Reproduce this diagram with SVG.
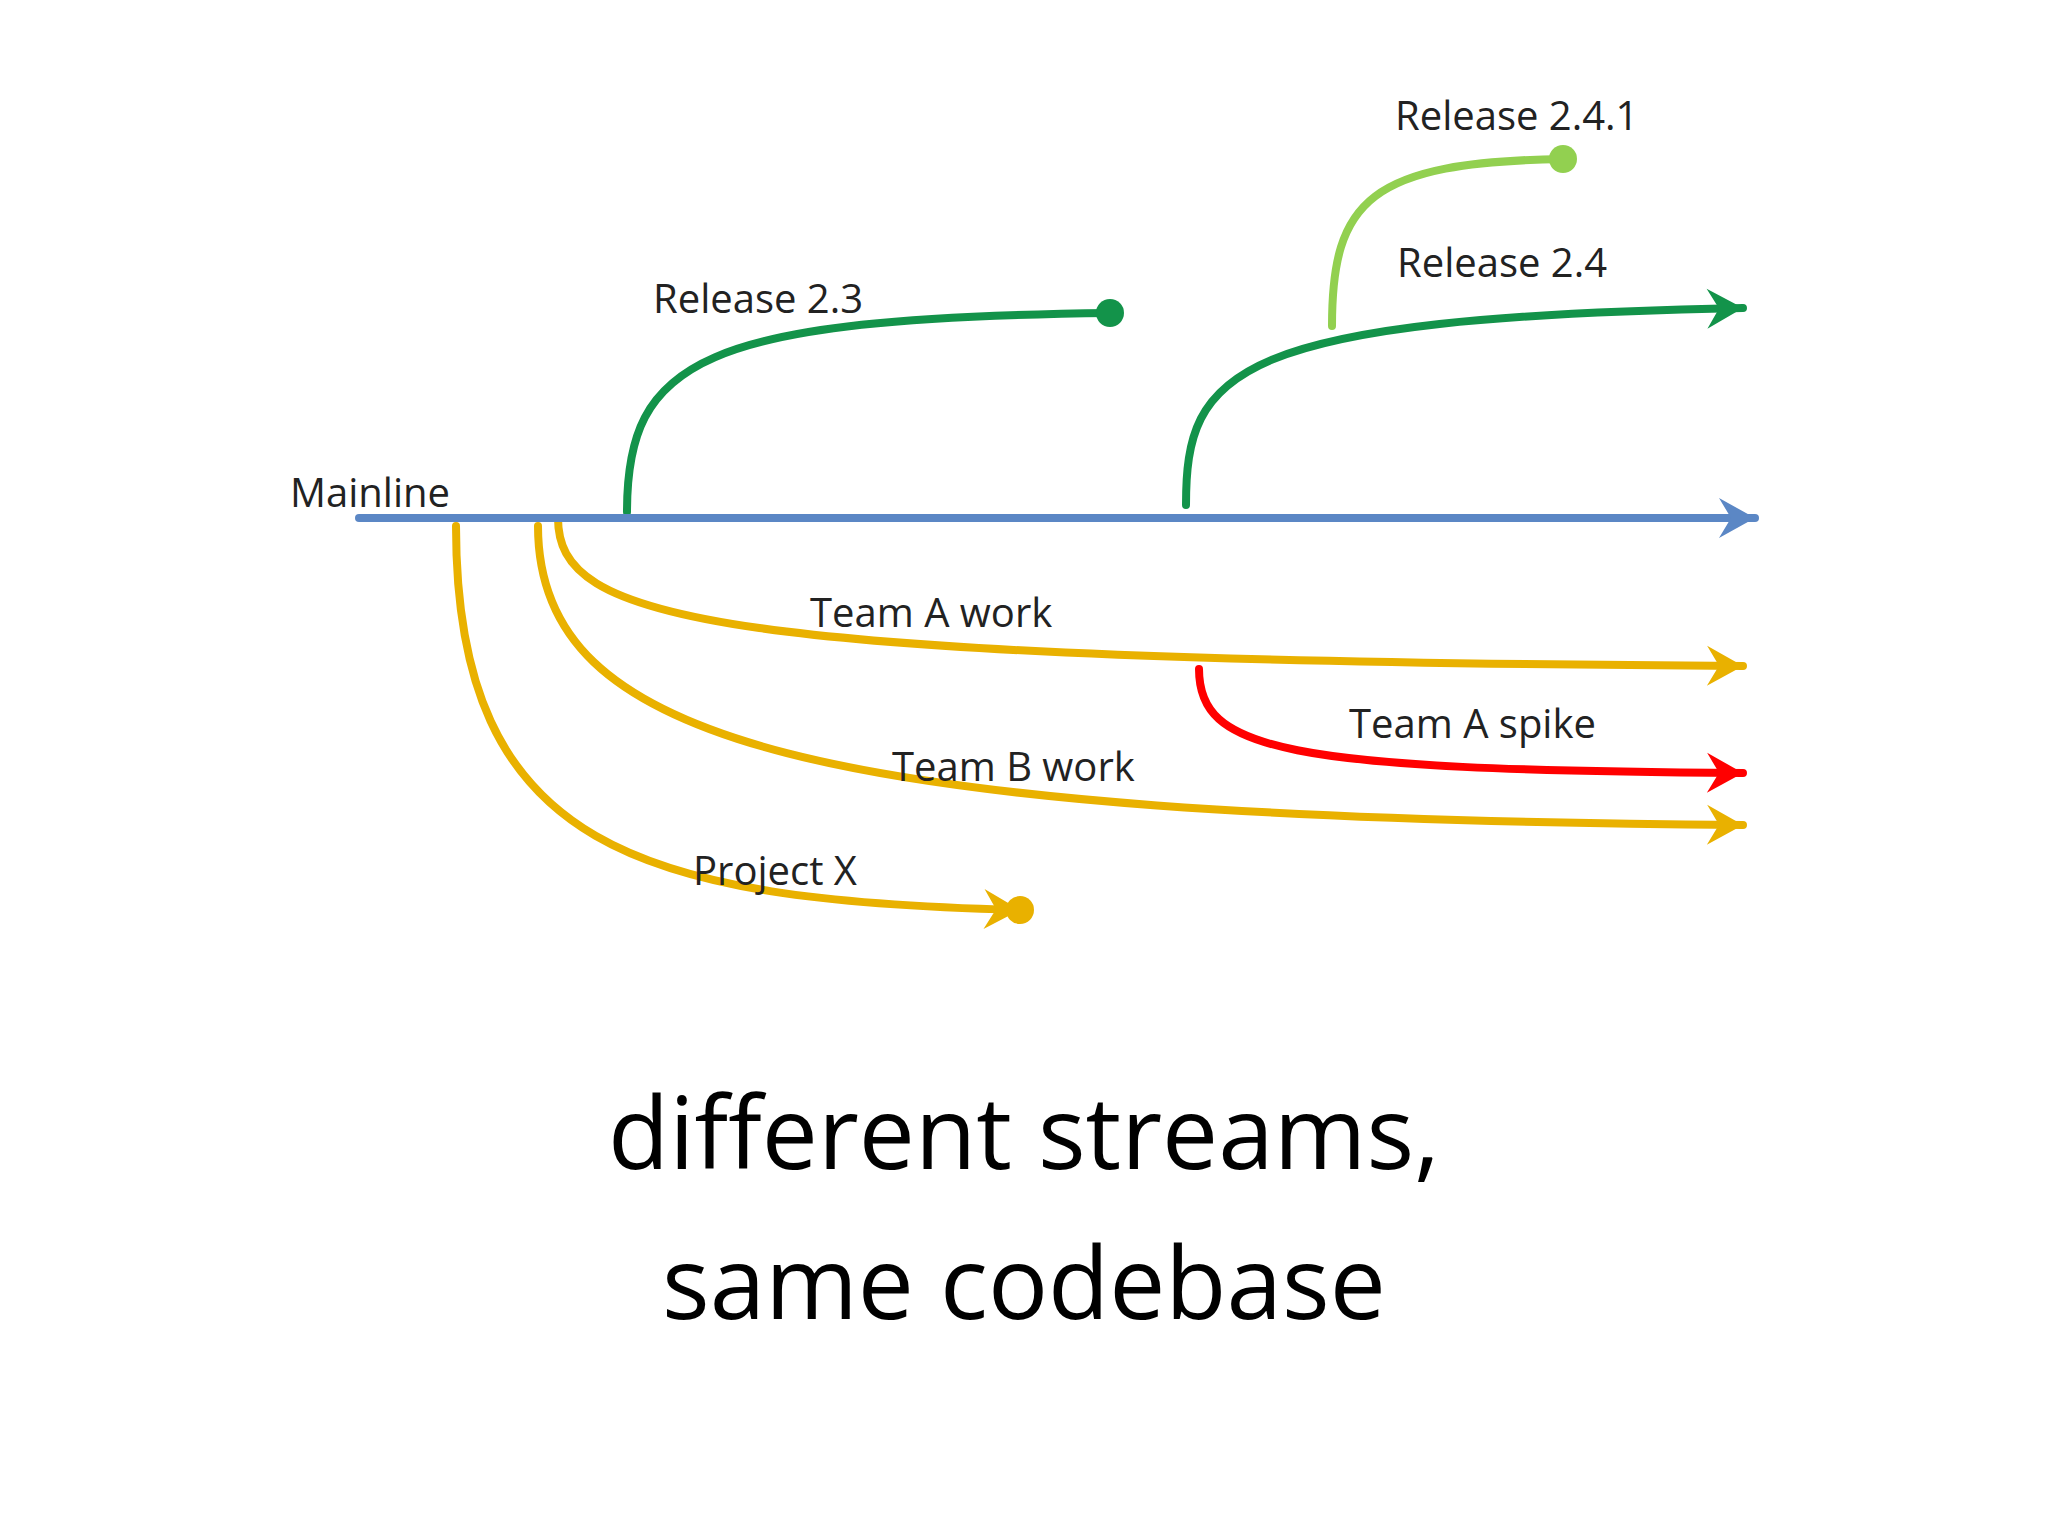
<svg xmlns="http://www.w3.org/2000/svg" width="2048" height="1536" viewBox="0 0 2048 1536">
<style>
.l{fill:none;stroke-width:8;stroke-linecap:round}
.t{font-family:"Open Sans","Liberation Sans",sans-serif;font-size:40px;fill:#222}
.b{font-family:"Open Sans","Liberation Sans",sans-serif;font-size:100px;fill:#000;text-anchor:middle}
</style>
<defs>
<marker id="ab" viewBox="0 0 12 12" refX="11" refY="6" markerWidth="6" markerHeight="6" orient="auto" markerUnits="strokeWidth"><path d="M2,1 L11,6 L2,11 L5,6 Z" fill="#5b87c5"/></marker>
<marker id="ag" viewBox="0 0 12 12" refX="11" refY="6" markerWidth="6" markerHeight="6" orient="auto" markerUnits="strokeWidth"><path d="M2,1 L11,6 L2,11 L5,6 Z" fill="#13934a"/></marker>
<marker id="ay" viewBox="0 0 12 12" refX="11" refY="6" markerWidth="6" markerHeight="6" orient="auto" markerUnits="strokeWidth"><path d="M2,1 L11,6 L2,11 L5,6 Z" fill="#e9b100"/></marker>
<marker id="ar" viewBox="0 0 12 12" refX="11" refY="6" markerWidth="6" markerHeight="6" orient="auto" markerUnits="strokeWidth"><path d="M2,1 L11,6 L2,11 L5,6 Z" fill="#ff0000"/></marker>
</defs>
<rect width="2048" height="1536" fill="#fff"/>
<g id="connectors">
<path class="l" stroke="#92d050" d="M1332,326 C1332,200 1370,162 1563,159"/>
<path class="l" stroke="#13934a" d="M627,512 C627,360 700,318 1110,313"/>
<path class="l" stroke="#13934a" marker-end="url(#ag)" d="M1186,505 C1186,370 1230,318 1743,308"/>
<path class="l" stroke="#e9b100" marker-end="url(#ay)" d="M456,526 C456,850 640,900 1020,910"/>
<path class="l" stroke="#e9b100" marker-end="url(#ay)" d="M538,526 C538,740 800,818 1743,825"/>
<path class="l" stroke="#e9b100" marker-end="url(#ay)" d="M558,518 C558,620 700,660 1743,666"/>
<path class="l" stroke="#ff0000" marker-end="url(#ar)" d="M1199,669 C1199,750 1280,770 1743,773"/>
<path class="l" stroke="#5b87c5" marker-end="url(#ab)" d="M359,518 L1755,518"/>
</g>
<g id="dots">
<circle cx="1110" cy="313" r="14" fill="#13934a"/>
<circle cx="1563" cy="159" r="14" fill="#92d050"/>
<circle cx="1020" cy="910" r="14" fill="#e9b100"/>
</g>
<g id="labels">
<text class="t" x="290" y="507">Mainline</text>
<text class="t" x="653" y="313">Release 2.3</text>
<text class="t" x="1397" y="277">Release 2.4</text>
<text class="t" x="1395" y="130">Release 2.4.1</text>
<text class="t" x="810" y="627">Team A work</text>
<text class="t" x="1349" y="738">Team A spike</text>
<text class="t" x="892" y="781">Team B work</text>
<text class="t" x="693" y="885">Project X</text>
</g>
<g id="caption">
<text class="b" x="1024" y="1169">different streams,</text>
<text class="b" x="1024" y="1319">same codebase</text>
</g>
</svg>
